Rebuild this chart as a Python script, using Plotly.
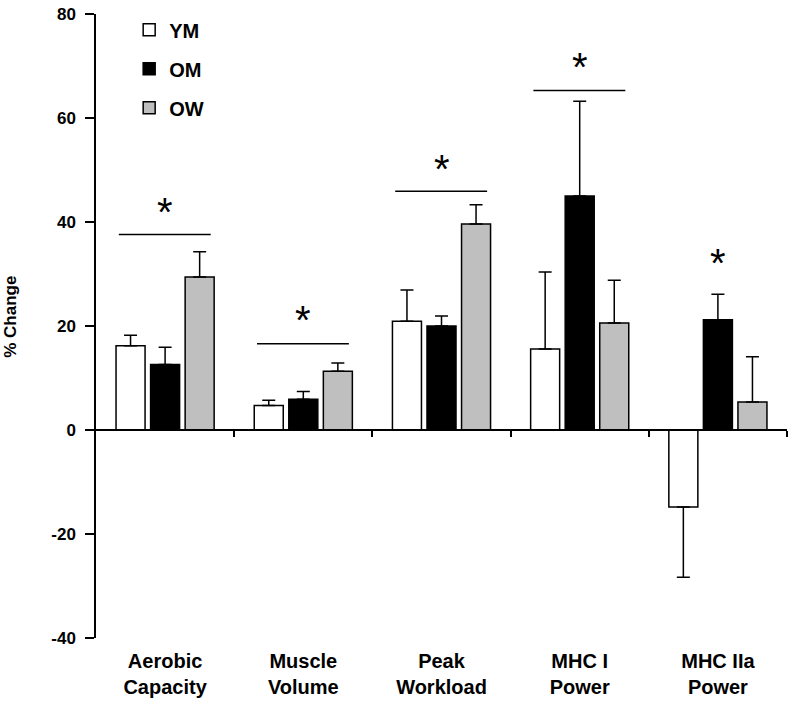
import plotly.graph_objects as go

categories = ["Aerobic<br>Capacity", "Muscle<br>Volume", "Peak<br>Workload", "MHC I<br>Power", "MHC IIa<br>Power"]
groups = ["YM", "OM", "OW"]
ym_values = [16.2, 4.7, 20.9, 15.6, -14.8]
om_values = [12.6, 5.9, 20.0, 45.0, 21.2]
ow_values = [29.4, 11.3, 39.6, 20.6, 5.4]
ym_err = [2.0, 1.0, 6.0, 14.8, 13.5]
om_err = [3.3, 1.5, 1.9, 18.2, 4.9]
ow_err = [4.9, 1.6, 3.7, 8.2, 8.7]
sig_line_y = [37.6, 16.6, 45.9, 65.3, None]
star_y = [42.7, 21.9, 51.0, 70.5, 32.9]
y_tickvals = [-40, -20, 0, 20, 40, 60, 80]
y_ticktext = ["-40", "-20", "0", "20", "40", "60", "80"]
colors = ["#ffffff", "#000000", "#bfbfbf"]

FONT = "Arial, 'Liberation Sans', sans-serif"

fig = go.Figure()
for name, vals, errs, col in zip(groups, [ym_values, om_values, ow_values], [ym_err, om_err, ow_err], colors):
    plus = [e if v >= 0 else 0 for v, e in zip(vals, errs)]
    minus = [0 if v >= 0 else e for v, e in zip(vals, errs)]
    fig.add_trace(go.Bar(
        x=categories, y=vals, name=name, legendgroup=name,
        marker=dict(color=col, line=dict(color="black", width=1.5)),
        error_y=dict(type="data", symmetric=False, array=plus, arrayminus=minus,
                     color="black", thickness=1.5, width=6.5),
    ))

# empty helper trace so that the zero-crossing axis (x2) is drawn
fig.add_trace(go.Scatter(x=[None], y=[None], xaxis="x2", yaxis="y", showlegend=False,
                         hoverinfo="skip", mode="markers"))

for i, (ly, sy) in enumerate(zip(sig_line_y, star_y)):
    if ly is not None:
        fig.add_shape(type="line", xref="x", yref="y", x0=i - 0.335, x1=i + 0.33, y0=ly, y1=ly,
                      line=dict(color="black", width=1.5))
    fig.add_annotation(x=i, y=sy, xref="x", yref="y", text="*", showarrow=False,
                       font=dict(family=FONT, size=40, color="black"), yanchor="middle", yshift=-4)

fig.add_annotation(x=-0.1237, y=0.514, xref="paper", yref="paper", text="% Change", textangle=-90,
                   showarrow=False, xanchor="center", yanchor="middle",
                   font=dict(family=FONT, size=17, color="black", weight="bold"))

fig.update_layout(
    width=792, height=704,
    margin=dict(l=96, r=5, t=10, b=66),
    paper_bgcolor="white", plot_bgcolor="white",
    barmode="group", bargap=0.25, bargroupgap=0.16,
    font=dict(family=FONT, color="black"),
    showlegend=True,
    legend=dict(x=0.048, y=1.006, xanchor="left", yanchor="top",
                font=dict(family=FONT, size=20, color="black", weight="bold"),
                tracegroupgap=10, traceorder="grouped", bgcolor="rgba(0,0,0,0)"),
    xaxis=dict(type="category", range=[-0.5, 4.5], showline=False, ticks="", showgrid=False,
               zeroline=False, ticklabelstandoff=9,
               tickfont=dict(family=FONT, size=20, color="black", weight="bold")),
    xaxis2=dict(overlaying="x", anchor="free", position=40 / 120, range=[-0.5, 4.5],
                tickvals=[0.5, 1.5, 2.5, 3.5, 4.5], ticks="outside", ticklen=6, tickwidth=1.5,
                tickcolor="black", showticklabels=False, showline=True, linecolor="black",
                linewidth=1.5, showgrid=False, zeroline=False),
    yaxis=dict(range=[-40, 80], tickvals=y_tickvals, ticktext=y_ticktext, ticks="outside",
               ticklen=9, tickwidth=1.5, tickcolor="black", showline=True, linecolor="black",
               linewidth=1.5, showgrid=False, zeroline=False, ticklabelstandoff=6,
               tickfont=dict(family=FONT, size=17, color="black", weight="bold")),
)

fig.write_html("out.html", config={"displayModeBar": False},
               post_script="document.body.style.margin='0px';")
